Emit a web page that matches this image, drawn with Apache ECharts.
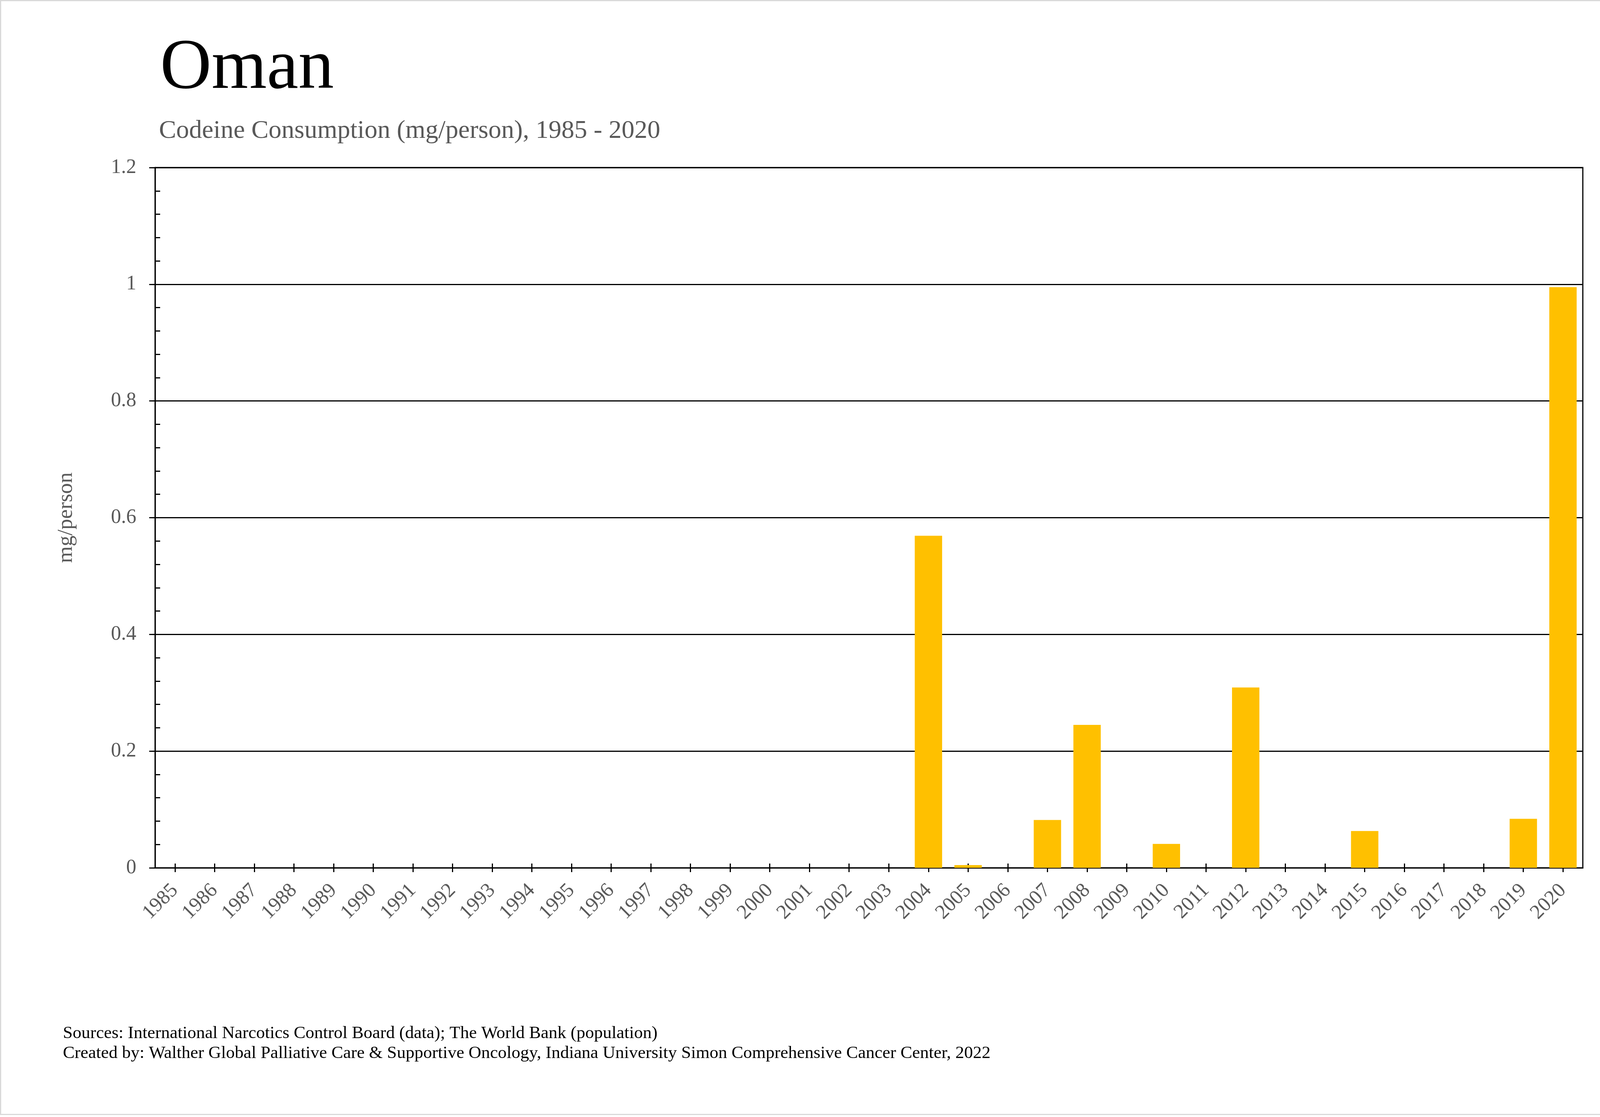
<!DOCTYPE html>
<html>
<head>
<meta charset="utf-8">
<script src="https://cdn.jsdelivr.net/npm/echarts@6/dist/echarts.min.js"></script>
<style>
html,body{margin:0;padding:0;background:#fff;}
#chart{width:4221px;height:2860px;}
</style>
</head>
<body>
<div id="chart"></div>
<script>
var years = ['1985','1986','1987','1988','1989','1990','1991','1992','1993','1994','1995','1996','1997','1998','1999','2000','2001','2002','2003','2004','2005','2006','2007','2008','2009','2010','2011','2012','2013','2014','2015','2016','2017','2018','2019','2020'];
var codeine = [0,0,0,0,0,0,0,0,0,0,0,0,0,0,0,0,0,0,0,0.569,0.0047,0,0.082,0.245,0,0.041,0,0.309,0,0,0.063,0,0,0,0.084,0.995];
var titleText = 'Oman';
var subtitleText = 'Codeine Consumption (mg/person), 1985 - 2020';
var yName = 'mg/person';
var footerLines = ['Sources: International Narcotics Control Board (data); The World Bank (population)',
  'Created by: Walther Global Palliative Care & Supportive Oncology, Indiana University Simon Comprehensive Cancer Center, 2022'];

var FONT = "'Liberation Serif', 'Times New Roman', serif";
var chart = echarts.init(document.getElementById('chart'), null, {renderer:'canvas'});
chart.setOption({
  backgroundColor: '#ffffff',
  animation: false,
  title: [
    {text: titleText, left: 410, top: 86, padding: 0,
     textStyle: {fontFamily: FONT, fontSize: 182, fontWeight: 'normal', color: '#000000', lineHeight: 182}},
    {text: subtitleText, left: 407, top: 303, padding: 0,
     textStyle: {fontFamily: FONT, fontSize: 66, fontWeight: 'normal', color: '#595959', lineHeight: 66}},
    {text: footerLines.join('\n'), left: 161, top: 2621, padding: 0,
     textStyle: {fontFamily: FONT, fontSize: 45, fontWeight: 'normal', color: '#000000', lineHeight: 51}}
  ],
  graphic: [
    {type: 'rect', shape: {x: 1.5, y: 1.5, width: 4212, height: 2852}, style: {fill: 'none', stroke: '#d9d9d9', lineWidth: 3}, silent: true}
  ],
  grid: {left: 397, top: 429, right: 169, bottom: 638, show: true, borderColor: '#000000', borderWidth: 3, backgroundColor: 'transparent'},
  xAxis: [
    {type: 'category', data: years, position: 'bottom', boundaryGap: true,
     axisLine: {show: true, lineStyle: {color: '#000000', width: 3}},
     axisTick: {show: true, alignWithLabel: true, length: 11, lineStyle: {color: '#000000', width: 3}},
     axisLabel: {show: true, rotate: 45, margin: 50, interval: 0, fontFamily: FONT, fontSize: 52, color: '#595959'},
     splitLine: {show: false}},
    {type: 'category', data: years, position: 'bottom', boundaryGap: true,
     axisLine: {show: false},
     axisTick: {show: true, inside: true, alignWithLabel: true, length: 11, lineStyle: {color: '#000000', width: 3}},
     axisLabel: {show: false}, splitLine: {show: false}}
  ],
  yAxis: [
    {type: 'value', min: 0, max: 1.2, interval: 0.2, position: 'left',
     name: yName, nameLocation: 'middle', nameGap: 200, nameRotate: 90,
     nameTextStyle: {fontFamily: FONT, fontSize: 55, color: '#595959'},
     axisLine: {show: true, lineStyle: {color: '#000000', width: 3}},
     axisTick: {show: true, length: 15, lineStyle: {color: '#000000', width: 3}},
     axisLabel: {show: true, margin: 48, fontFamily: FONT, fontSize: 52, color: '#595959'},
     splitLine: {show: true, lineStyle: {color: '#000000', width: 3}}},
    {type: 'value', min: 0, max: 1.2, interval: 0.2, position: 'left', offset: 0,
     axisLine: {show: false},
     axisTick: {show: false, inside: true},
     minorTick: {show: true, splitNumber: 5, length: 13, lineStyle: {color: '#000000', width: 3}},
     axisLabel: {show: false}, splitLine: {show: false}}
  ],
  series: [
    {type: 'bar', name: 'Codeine', data: codeine, xAxisIndex: 0, yAxisIndex: 0,
     barCategoryGap: '31%', itemStyle: {color: '#FFC000'}, silent: true}
  ]
});
</script>
</body>
</html>
